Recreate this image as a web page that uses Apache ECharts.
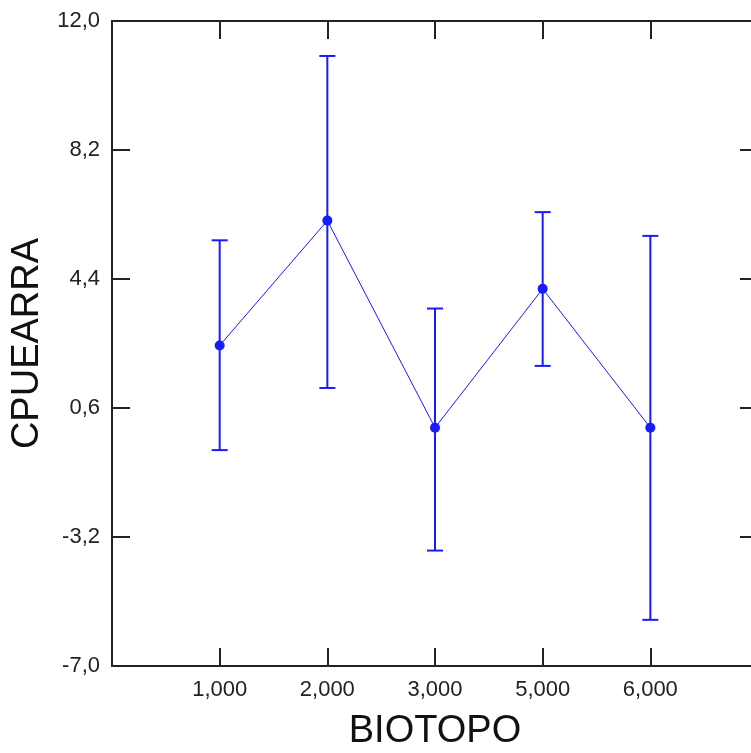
<!DOCTYPE html>
<html>
<head>
<meta charset="utf-8">
<script src="https://cdn.jsdelivr.net/npm/echarts@6/dist/echarts.min.js"></script>
<style>
  html, body { margin: 0; padding: 0; background: #fff; }
  #chart { width: 751px; height: 753px; }
</style>
</head>
<body>
<div id="chart"></div>
<script>
// BIOTOPO groups, mean CPUEARRA with error bars
const categories = ['1,000', '2,000', '3,000', '5,000', '6,000'];
const means = [2.44, 6.12, 0.02, 4.11, 0.02];
const upper = [5.54, 10.97, 3.53, 6.37, 5.67];
const lower = [-0.64, 1.19, -3.60, 1.84, -5.64];
const yTicks = [-7.0, -3.2, 0.6, 4.4, 8.2, 12.0];

const blue = '#1a1aff';
const axisColor = '#222';
const labelFont = 'Liberation Sans';

// x positions: categories sit at 1..n, axis runs 0..n+1
var lineData = [];
var barData = [];
for (var i = 0; i < categories.length; i++) {
  lineData.push([i + 1, means[i]]);
  barData.push([i + 1, lower[i], upper[i]]);
}

var fmtY = function(v) {
  return (Math.round(v * 10) / 10).toFixed(1).replace('.', ',');
};
var fmtX = function(v) {
  var idx = Math.round(v) - 1;
  return categories[idx] || '';
};

var tickStyle = { show: true, inside: true, length: 18, lineStyle: { color: axisColor, width: 2 } };
var lineStyle = { show: true, onZero: false, lineStyle: { color: axisColor, width: 2 } };

var myChart = echarts.init(document.getElementById('chart'));
var option = {
  animation: false,
  grid: { left: 112, top: 21, width: 646, height: 645, outerBoundsMode: 'none', containLabel: false },
  xAxis: [{
    type: 'value',
    min: 0,
    max: categories.length + 1,
    interval: 1,
    name: 'BIOTOPO',
    nameLocation: 'middle',
    nameGap: 47,
    nameTextStyle: { fontFamily: labelFont, fontSize: 38, color: '#111' },
    axisLine: lineStyle,
    axisTick: tickStyle,
    splitLine: { show: false },
    axisLabel: { formatter: fmtX, fontFamily: labelFont, fontSize: 22, color: '#222', margin: 13 }
  }, {
    type: 'value',
    position: 'top',
    min: 0,
    max: categories.length + 1,
    interval: 1,
    axisLine: lineStyle,
    axisTick: tickStyle,
    splitLine: { show: false },
    axisLabel: { show: false }
  }],
  yAxis: [{
    type: 'value',
    min: yTicks[0],
    max: yTicks[yTicks.length - 1],
    interval: 3.8,
    name: 'CPUEARRA',
    nameLocation: 'middle',
    nameGap: 62,
    nameRotate: 90,
    nameTextStyle: { fontFamily: labelFont, fontSize: 38, color: '#111' },
    axisLine: lineStyle,
    axisTick: tickStyle,
    splitLine: { show: false },
    axisLabel: { formatter: fmtY, fontFamily: labelFont, fontSize: 22, color: '#222', margin: 12 }
  }, {
    type: 'value',
    position: 'right',
    min: yTicks[0],
    max: yTicks[yTicks.length - 1],
    interval: 3.8,
    axisLine: lineStyle,
    axisTick: tickStyle,
    splitLine: { show: false },
    axisLabel: { show: false }
  }],
  series: [{
    type: 'custom',
    data: barData,
    z: 2,
    renderItem: function(params, api) {
      var x = api.value(0);
      var lo = api.coord([x, api.value(1)]);
      var hi = api.coord([x, api.value(2)]);
      var half = 8;
      var st = { stroke: blue, lineWidth: 2 };
      return {
        type: 'group',
        children: [
          { type: 'line', shape: { x1: lo[0], y1: lo[1], x2: hi[0], y2: hi[1] }, style: st },
          { type: 'line', shape: { x1: hi[0] - half, y1: hi[1], x2: hi[0] + half, y2: hi[1] }, style: st },
          { type: 'line', shape: { x1: lo[0] - half, y1: lo[1], x2: lo[0] + half, y2: lo[1] }, style: st }
        ]
      };
    }
  }, {
    type: 'line',
    data: lineData,
    z: 3,
    symbol: 'circle',
    symbolSize: 10,
    lineStyle: { color: blue, width: 1 },
    itemStyle: { color: blue }
  }]
};
myChart.setOption(option);
</script>
</body>
</html>
